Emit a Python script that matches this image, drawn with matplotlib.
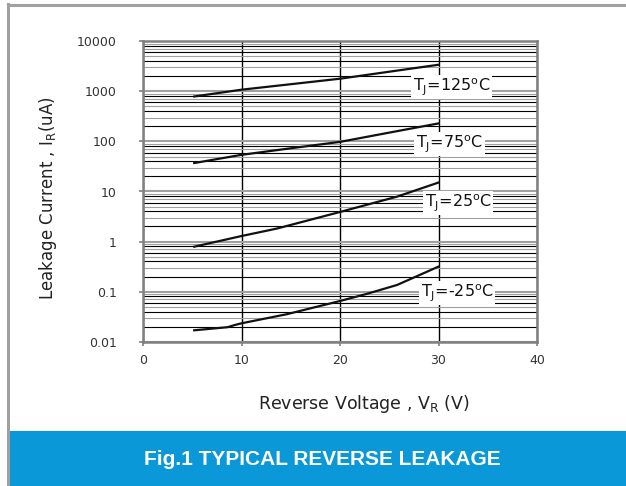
import matplotlib
matplotlib.use("Agg")
import matplotlib.pyplot as plt
from matplotlib.ticker import LogLocator, NullFormatter
from matplotlib.patches import Rectangle
from matplotlib.lines import Line2D

plt.rcParams['font.family'] = ['DejaVu Sans']
plt.rcParams['mathtext.fontset'] = 'custom'
plt.rcParams['mathtext.rm'] = 'DejaVu Sans'
plt.rcParams['mathtext.it'] = 'DejaVu Sans'

# data
v125 = [5.2, 10, 15, 20, 25, 30]
i125 = [790, 1080, 1390, 1790, 2470, 3400]
v75 = [5.2, 10, 15, 20, 25, 30]
i75 = [37, 54, 73, 98, 150, 229]
v25 = [5.2, 10, 13.6, 20, 25.8, 30]
i25 = [0.79, 1.29, 1.82, 3.9, 7.9, 15.1]
vm25 = [5.2, 8.6, 9.3, 10, 14.6, 20, 22.7, 25.8, 30]
im25 = [0.0169, 0.0195, 0.0215, 0.0233, 0.0354, 0.065, 0.09, 0.136, 0.316]

curves = [(v125, i125), (v75, i75), (v25, i25), (vm25, im25)]
labels = ["T$_\\mathregular{J}$=125$^\\mathregular{o}$C",
          "T$_\\mathregular{J}$=75$^\\mathregular{o}$C",
          "T$_\\mathregular{J}$=25$^\\mathregular{o}$C",
          "T$_\\mathregular{J}$=-25$^\\mathregular{o}$C"]
label_x = [27.4, 27.7, 28.6, 28.2]
label_y = [1200, 88, 5.9, 0.093]

yticks = [0.01, 0.1, 1, 10, 100, 1000, 10000]
yticklabels = ['0.01', '0.1', '1', '10', '100', '1000', '10000']
xticks = [0, 10, 20, 30, 40]

fig = plt.figure(figsize=(6.26, 4.86), dpi=100)

# page frame and blue caption band
fig.add_artist(Line2D([7.5 / 626, 7.5 / 626], [0, 1 - 4 / 486], transform=fig.transFigure,
                      color='#a0a0a0', lw=2.2))
fig.add_artist(Line2D([7.5 / 626, 1], [1 - 5 / 486, 1 - 5 / 486], transform=fig.transFigure,
                      color='#a0a0a0', lw=2.2))
fig.add_artist(Rectangle((9 / 626, 0), 1 - 9 / 626, 55.5 / 486, transform=fig.transFigure,
                         facecolor='#0a98d8', edgecolor='none'))
fig.text(322 / 626, 1 - 459 / 486, "Fig.1 TYPICAL REVERSE LEAKAGE", color='white',
         fontsize=15, fontweight='bold', ha='center', va='center',
         family=['Liberation Sans', 'DejaVu Sans'])

ax = fig.add_axes([143 / 626, 1 - 341.7 / 486, 394 / 626, 300.4 / 486])
ax.set_yscale('log')
ax.set_xlim(0, 40)
ax.set_ylim(0.01, 10000)

ax.set_yticks(yticks)
ax.set_yticklabels(yticklabels)
ax.set_xticks(xticks)
ax.yaxis.set_minor_locator(LogLocator(base=10, subs=range(2, 10), numticks=20))
ax.yaxis.set_minor_formatter(NullFormatter())

ax.grid(True, which='major', axis='y', color='#a0a0a0', lw=1.5)
ax.grid(True, which='minor', axis='y', color='black', lw=0.8)
ax.grid(True, which='major', axis='x', color='black', lw=1.0)
minor_cols = ['black', '#a0a0a0']
for k, t in enumerate(ax.yaxis.get_minor_ticks()):
    t.gridline.set_color(minor_cols[k % 2])
ax.tick_params(axis='y', which='minor', length=0)
ax.tick_params(axis='y', which='major', direction='out', length=3, width=1.2,
               color='#808080', pad=16, labelsize=9, labelcolor='#333333')
ax.tick_params(axis='x', direction='out', length=3, width=1.2, color='#808080',
               pad=6, labelsize=9, labelcolor='#333333')
for s in ax.spines.values():
    s.set_color('#808080')
    s.set_linewidth(1.8)

for (vx, iy) in curves:
    ax.plot(vx, iy, color='#111111', lw=1.6, zorder=3)

for lx, ly, lab in zip(label_x, label_y, labels):
    ax.text(lx, ly, lab, fontsize=11.5, color='#111111', ha='left', va='center', zorder=4,
            bbox=dict(facecolor='white', edgecolor='none', pad=1.0))

fig.text(363.5 / 626, 1 - 404 / 486, "Reverse Voltage , V$_\\mathregular{R}$ (V)",
         fontsize=12.5, color='#222222', ha='center', va='center')
fig.text(48 / 626, 1 - 198.5 / 486, "Leakage Current , I$_\\mathregular{R}$(uA)",
         fontsize=12, color='#222222', ha='center', va='center', rotation=90)

fig.savefig("out.png", dpi=100)
